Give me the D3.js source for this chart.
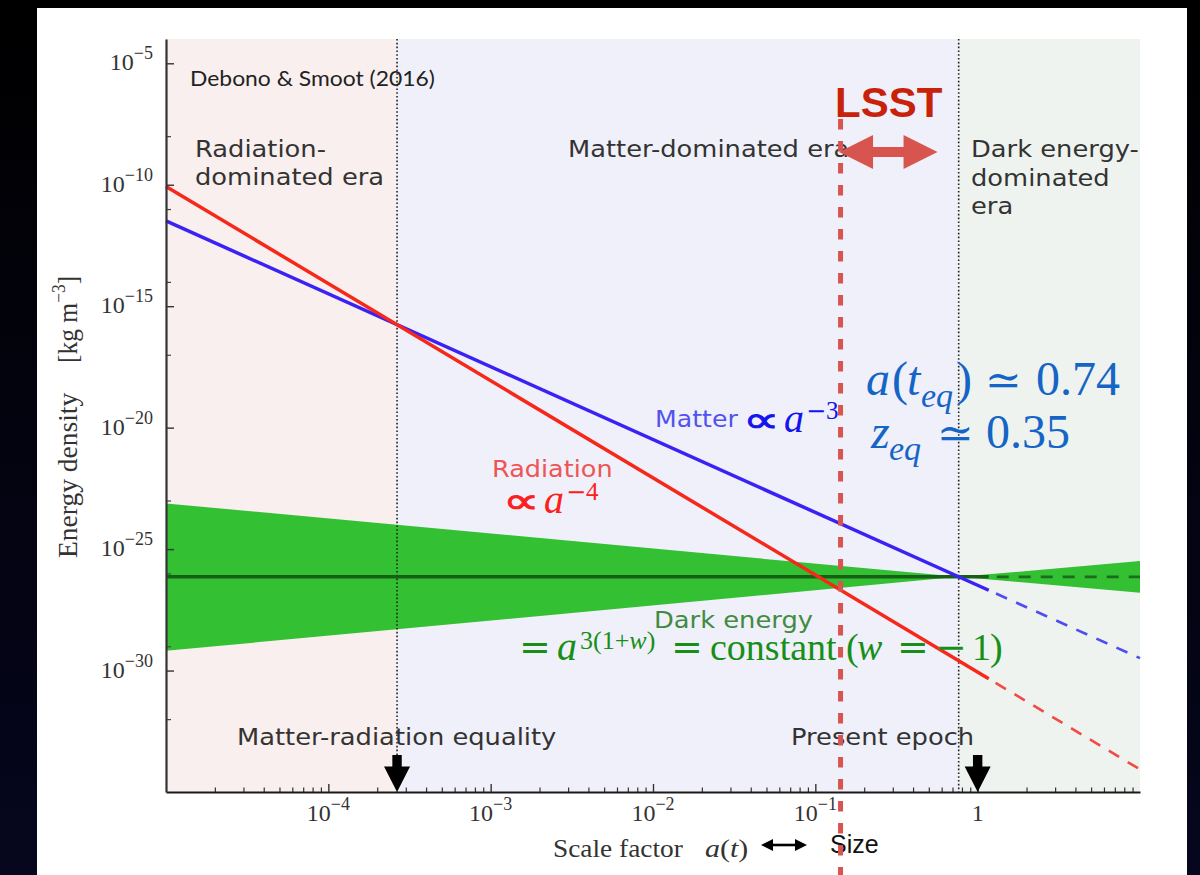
<!DOCTYPE html>
<html>
<head>
<meta charset="utf-8">
<title>Energy density of the Universe vs scale factor</title>
<script src="https://cdn.jsdelivr.net/npm/d3@7"></script>
<style>
  html, body { margin: 0; padding: 0; background: #02020a; }
  svg { display: block; }
</style>
</head>
<body>
<svg id="chart" width="1200" height="875"></svg>
<script>
// ---------------- data ----------------
// scale factor a(t) and energy density [kg m^-3], log-log axes
const xDomain = [1e-5, 10];
const yDomain = [1e-35, 1e-4];

const xMajorTicks = [1e-4, 1e-3, 1e-2, 1e-1, 1];
const xTickExponents = ["−4", "−3", "−2", "−1", null];   // null -> plain "1"
const yMajorTicks = [1e-30, 1e-25, 1e-20, 1e-15, 1e-10, 1e-5];
const yTickExponents = ["−30", "−25", "−20", "−15", "−10", "−5"];
const yMinorTicks = [1e-32, 1e-29, 1e-26, 1e-23, 1e-17, 1e-14, 1e-11, 1e-8];

// era boundaries: start, matter–radiation equality, matter–Λ equality, end
const eraBounds = [1e-5, 2.65e-4, 0.764, 10];

// density curves: measured part and projected (future) part
const radiationSolid = [[1e-5, 8.5e-11], [1.17, 4.6e-31]];
const radiationProjected = [[1.17, 4.6e-31], [10, 8.5e-35]];
const matterSolid = [[1e-5, 3.24e-12], [1.17, 2.02e-27]];
const matterProjected = [[1.17, 2.02e-27], [10, 3.24e-30]];
const lambdaSolid = [[1e-5, 7.2e-27], [1.17, 7.2e-27]];
const lambdaProjected = [[1.17, 7.2e-27], [10, 7.2e-27]];

// dark-energy band for -1.2 < w < -0.8, pinned at matter–Λ equality
const lambdaBandUpper = [[1e-5, 7.6e-24], [0.764, 7.2e-27], [10, 3.2e-26]];
const lambdaBandLower = [[1e-5, 6.5e-30], [0.764, 7.2e-27], [10, 1.6e-27]];

// epochs marked with arrows on the axis
const epochArrows = [2.65e-4, 1];
// LSST reach in scale factor
const lsstScale = 0.143;

// ---------------- layout & style ----------------
const plot = { left: 166, right: 1140, top: 39, bottom: 792 };
const eraFills = ["#f9efee", "#f0f0fa", "#eff3ef"];
const colors = {
  radiation: "#f5281a", radiationDash: "#f24a44",
  matter: "#3a22f5", matterDash: "#4d4df0",
  band: "#33c033", lambda: "#166016", lambdaDash: "#1d6b1d",
  text: "#333333", lsst: "#d8554f"
};

const svg = d3.select("#chart");
const x = d3.scaleLog().domain(xDomain).range([plot.left, plot.right]);
const y = d3.scaleLog().domain(yDomain).range([plot.bottom, plot.top]);
const line = d3.line().x(d => x(d[0])).y(d => y(d[1]));

// slide backdrop and white card
const defs = svg.append("defs");
const grad = defs.append("linearGradient").attr("id", "backdrop")
  .attr("x1", 0).attr("y1", 0).attr("x2", 0).attr("y2", 1);
grad.append("stop").attr("offset", "0%").attr("stop-color", "#000000");
grad.append("stop").attr("offset", "100%").attr("stop-color", "#06061e");
svg.append("rect").attr("width", 1200).attr("height", 875).attr("fill", "url(#backdrop)");
svg.append("rect").attr("x", 37).attr("y", 8).attr("width", 1150).attr("height", 867).attr("fill", "#ffffff");

// text helper: horizontally stretched labels
function label(parent, px, py, str, o = {}) {
  const t = parent.append("text")
    .attr("transform", `translate(${px},${py}) scale(${o.sx ?? 1},${o.sy ?? 1})`)
    .attr("font-family", o.family ?? "DejaVu Sans")
    .attr("font-size", o.size ?? 23)
    .attr("fill", o.color ?? colors.text)
    .attr("text-anchor", o.anchor ?? "start");
  if (o.weight) t.attr("font-weight", o.weight);
  if (o.style) t.attr("font-style", o.style);
  if (str != null) t.text(str);
  return t;
}

// ---------------- era shading ----------------
const gEra = svg.append("g");
gEra.selectAll("rect").data(d3.pairs(eraBounds)).join("rect")
  .attr("x", d => x(d[0])).attr("width", d => x(d[1]) - x(d[0]))
  .attr("y", plot.top).attr("height", plot.bottom - plot.top)
  .attr("fill", (d, i) => eraFills[i]);

// ---------------- dark-energy band ----------------
svg.append("path")
  .attr("d", line(lambdaBandUpper.concat(lambdaBandLower.slice().reverse())) + "Z")
  .attr("fill", colors.band);

// era boundary lines (dotted)
svg.append("g").selectAll("line").data(eraBounds.slice(1, 3)).join("line")
  .attr("x1", d => x(d)).attr("x2", d => x(d))
  .attr("y1", plot.top).attr("y2", plot.bottom)
  .attr("stroke", "#222").attr("stroke-width", 1.6).attr("stroke-dasharray", "1.6,2.2");

// ---------------- density curves ----------------
const gLines = svg.append("g").attr("fill", "none").attr("stroke-linecap", "butt");
gLines.append("path").attr("d", line(lambdaSolid)).attr("stroke", colors.lambda).attr("stroke-width", 3.5);
gLines.append("path").attr("d", line(lambdaProjected)).attr("stroke", colors.lambdaDash)
  .attr("stroke-width", 2.6).attr("stroke-dasharray", "12,10").attr("stroke-dashoffset", -8);
gLines.append("path").attr("d", line(matterSolid)).attr("stroke", colors.matter).attr("stroke-width", 3.5);
gLines.append("path").attr("d", line(matterProjected)).attr("stroke", colors.matterDash)
  .attr("stroke-width", 2.6).attr("stroke-dasharray", "12,10").attr("stroke-dashoffset", -8);
gLines.append("path").attr("d", line(radiationSolid)).attr("stroke", colors.radiation).attr("stroke-width", 3.5);
gLines.append("path").attr("d", line(radiationProjected)).attr("stroke", colors.radiationDash)
  .attr("stroke-width", 2.6).attr("stroke-dasharray", "12,10").attr("stroke-dashoffset", -8);

// ---------------- figure labels ----------------
const gTxt = svg.append("g");
label(gTxt, 190, 86, "Debono & Smoot (2016)", { family: "Lato", size: 21, color: "#222", sx: 1.09 });
const SX = 1.12;
label(gTxt, 195, 157, "Radiation-", { sx: SX });
label(gTxt, 195, 185, "dominated era", { sx: SX });
label(gTxt, 568, 157, "Matter-dominated era", { sx: SX });
label(gTxt, 971, 157, "Dark energy-", { sx: SX });
label(gTxt, 971, 185.5, "dominated", { sx: SX });
label(gTxt, 971, 214, "era", { sx: SX });
label(gTxt, 237, 745, "Matter-radiation equality", { sx: SX });
label(gTxt, 791, 745, "Present epoch", { sx: SX });
label(gTxt, 655, 427, "Matter", { size: 22.5, sx: SX, color: "#5252ee" });
label(gTxt, 492, 477, "Radiation", { size: 22.8, sx: SX, color: "#ef5555" });
label(gTxt, 654, 628, "Dark energy", { size: 23, sx: SX, color: "#418b41" });

// ---------------- axes ----------------
const gAx = svg.append("g");
const xMinor = [];
for (let e = -5; e <= 0; e++) for (let m = 2; m <= 9; m++) xMinor.push(m * Math.pow(10, e));

gAx.append("g").attr("transform", `translate(0,${plot.bottom})`)
  .call(d3.axisBottom(x).tickValues(xMinor).tickSize(-4.5).tickFormat(""))
  .call(g => g.select(".domain").remove())
  .call(g => g.selectAll("line").attr("stroke", "#333").attr("stroke-width", 1.2));
gAx.append("g").attr("transform", `translate(0,${plot.bottom})`)
  .call(d3.axisBottom(x).tickValues(xMajorTicks).tickSize(-8).tickFormat("").tickSizeOuter(0))
  .call(g => g.select(".domain").attr("stroke", "#1a1a1a").attr("stroke-width", 2.2))
  .call(g => g.selectAll("line").attr("stroke", "#333").attr("stroke-width", 1.4));

gAx.append("g").attr("transform", `translate(${plot.left},0)`)
  .call(d3.axisLeft(y).tickValues(yMinorTicks).tickSize(-5).tickFormat(""))
  .call(g => g.select(".domain").remove())
  .call(g => g.selectAll("line").attr("stroke", "#444").attr("stroke-width", 1.2));
gAx.append("g").attr("transform", `translate(${plot.left},0)`)
  .call(d3.axisLeft(y).tickValues(yMajorTicks).tickSize(-8).tickFormat("").tickSizeOuter(0))
  .call(g => g.select(".domain").attr("stroke", "#333").attr("stroke-width", 2.2))
  .call(g => g.selectAll("line").attr("stroke", "#333").attr("stroke-width", 1.4));

// tick labels in 10^n form
yMajorTicks.forEach((v, i) => {
  const t = label(gAx, 153, y(v) + 7, null, { family: "Liberation Serif", size: 24, anchor: "end", sx: 1.0 });
  t.append("tspan").text("10");
  t.append("tspan").attr("font-size", 18).attr("dy", -11).text(yTickExponents[i]);
});
xMajorTicks.forEach((v, i) => {
  const t = label(gAx, x(v), 821, null, { family: "Liberation Serif", size: 24, anchor: "middle", sx: 1.0 });
  if (xTickExponents[i] === null) { t.text("1"); return; }
  t.append("tspan").text("10");
  t.append("tspan").attr("font-size", 18).attr("dy", -11).text(xTickExponents[i]);
});

// axis titles
gAx.append("text").attr("transform", "translate(77,558) rotate(-90) scale(1.1,1.08)")
  .attr("font-family", "Liberation Serif").attr("font-size", 25).attr("fill", colors.text)
  .text("Energy density");
const yu = gAx.append("text").attr("transform", "translate(77,363) rotate(-90) scale(1.02,1.08)")
  .attr("font-family", "Liberation Serif").attr("font-size", 25).attr("fill", colors.text);
yu.append("tspan").text("[kg m");
yu.append("tspan").attr("font-size", 17).attr("dy", -11).text("−3");
yu.append("tspan").attr("dy", 11).text("]");

label(gAx, 553, 857, "Scale factor", { family: "Liberation Serif", size: 25, sx: 1.095 });
const at = label(gAx, 705, 857, null, { family: "Liberation Serif", size: 25, sx: 1.2 });
at.append("tspan").attr("font-style", "italic").text("a");
at.append("tspan").text("(");
at.append("tspan").attr("font-style", "italic").text("t");
at.append("tspan").text(")");
// two-headed "↔" between the axis words
const ax0 = 761, ax1 = 807, ay = 845;
gAx.append("line").attr("x1", ax0 + 8).attr("x2", ax1 - 8).attr("y1", ay).attr("y2", ay)
  .attr("stroke", "#000").attr("stroke-width", 2.6);
gAx.append("path").attr("fill", "#000")
  .attr("d", `M${ax0},${ay} L${ax0 + 12},${ay - 6} L${ax0 + 12},${ay + 6} Z M${ax1},${ay} L${ax1 - 12},${ay - 6} L${ax1 - 12},${ay + 6} Z`);
label(gAx, 830, 853, "Size", { family: "Liberation Sans", size: 25, color: "#111" });

// epoch arrows
svg.append("g").selectAll("path").data(epochArrows).join("path")
  .attr("fill", "#000")
  .attr("d", d => {
    const cx = x(d), b = plot.bottom;
    return `M${cx - 4.7},${b - 37} L${cx + 4.7},${b - 37} L${cx + 4.7},${b - 25.5} L${cx + 13},${b - 25.5} L${cx},${b} L${cx - 13},${b - 25.5} L${cx - 4.7},${b - 25.5} Z`;
  });

// ---------------- slide annotations ----------------
const gNote = svg.append("g");

// proportionality laws next to the curves
function law(px, py, exp, color) {
  gNote.append("text").attr("transform", `translate(${px - 2},${py}) scale(1.42,1.0)`)
    .attr("fill", color).attr("stroke", color).attr("stroke-width", 0.9)
    .attr("font-family", "DejaVu Sans").attr("font-size", 36).text("∝");
  const t = gNote.append("text").attr("fill", color).attr("font-family", "Liberation Serif");
  t.append("tspan").attr("x", px + 39).attr("y", py).attr("font-size", 40).attr("font-style", "italic").text("a");
  t.append("tspan").attr("x", px + 61).attr("y", py - 13).attr("font-family", "DejaVu Serif").attr("font-size", 24).text("−");
  t.append("tspan").attr("y", py - 13).attr("font-size", 25).text(exp);
}
law(745, 432, "3", "#1414ec");
law(505, 513, "4", "#fa2020");

// dark-energy equation
const eq = gNote.append("text").attr("fill", "#178f17").attr("font-family", "Liberation Serif").attr("font-size", 38);
const eqY = 660;
eq.append("tspan").attr("x", 519).attr("y", eqY).attr("font-family", "DejaVu Serif").text("=");
eq.append("tspan").attr("x", 557).attr("y", eqY).attr("font-size", 40).attr("font-style", "italic").text("a");
eq.append("tspan").attr("x", 580).attr("y", eqY - 11).attr("font-size", 26).text("3(1+");
eq.append("tspan").attr("font-size", 26).attr("font-style", "italic").text("w");
eq.append("tspan").attr("font-size", 26).text(")");
eq.append("tspan").attr("x", 671).attr("y", eqY).attr("font-family", "DejaVu Serif").text("=");
eq.append("tspan").attr("x", 710).attr("y", eqY).text("constant");
eq.append("tspan").attr("x", 846).attr("y", eqY).text("(");
eq.append("tspan").attr("x", 857).attr("y", eqY).attr("font-style", "italic").text("w");
eq.append("tspan").attr("x", 897).attr("y", eqY).attr("font-family", "DejaVu Serif").text("=");
eq.append("tspan").attr("x", 935).attr("y", eqY).attr("font-family", "DejaVu Serif").text("−");
eq.append("tspan").attr("x", 972).attr("y", eqY).text("1");
eq.append("tspan").attr("x", 990).attr("y", eqY).text(")");

// matter–Λ equality values
const eqv = gNote.append("text").attr("fill", "#1565c6").attr("font-family", "Liberation Serif").attr("font-size", 48);
eqv.append("tspan").attr("x", 866).attr("y", 395).attr("font-style", "italic").text("a");
eqv.append("tspan").attr("x", 892).attr("y", 395).text("(");
eqv.append("tspan").attr("x", 907).attr("y", 395).attr("font-style", "italic").text("t");
eqv.append("tspan").attr("x", 921).attr("y", 407).attr("font-size", 34).attr("font-style", "italic").text("eq");
eqv.append("tspan").attr("x", 956).attr("y", 395).text(")");
eqv.append("tspan").attr("x", 985).attr("y", 395).attr("font-family", "DejaVu Serif").attr("font-size", 44).text("≃");
eqv.append("tspan").attr("x", 1036).attr("y", 395).text("0.74");
eqv.append("tspan").attr("x", 871).attr("y", 448).attr("font-style", "italic").text("z");
eqv.append("tspan").attr("x", 889).attr("y", 460).attr("font-size", 34).attr("font-style", "italic").text("eq");
eqv.append("tspan").attr("x", 937).attr("y", 448).attr("font-family", "DejaVu Serif").attr("font-size", 44).text("≃");
eqv.append("tspan").attr("x", 986).attr("y", 448).text("0.35");

// LSST reach
const lx = x(lsstScale);
gNote.append("line").attr("x1", lx).attr("x2", lx).attr("y1", 119).attr("y2", 875)
  .attr("stroke", colors.lsst).attr("stroke-width", 5).attr("stroke-dasharray", "10.5,11.5");
const ly = 152, l0 = lx - 1.5, l1 = lx + 97;
gNote.append("path").attr("fill", colors.lsst)
  .attr("d", `M${l0},${ly} L${l0 + 34},${ly - 17} L${l0 + 34},${ly - 5} L${l1 - 34},${ly - 5} L${l1 - 34},${ly - 17} L${l1},${ly} L${l1 - 34},${ly + 17} L${l1 - 34},${ly + 5} L${l0 + 34},${ly + 5} L${l0 + 34},${ly + 17} Z`);
label(gNote, 835, 117, "LSST", { family: "Liberation Sans", size: 42, weight: "bold", color: "#c8230a" });
</script>
</body>
</html>
